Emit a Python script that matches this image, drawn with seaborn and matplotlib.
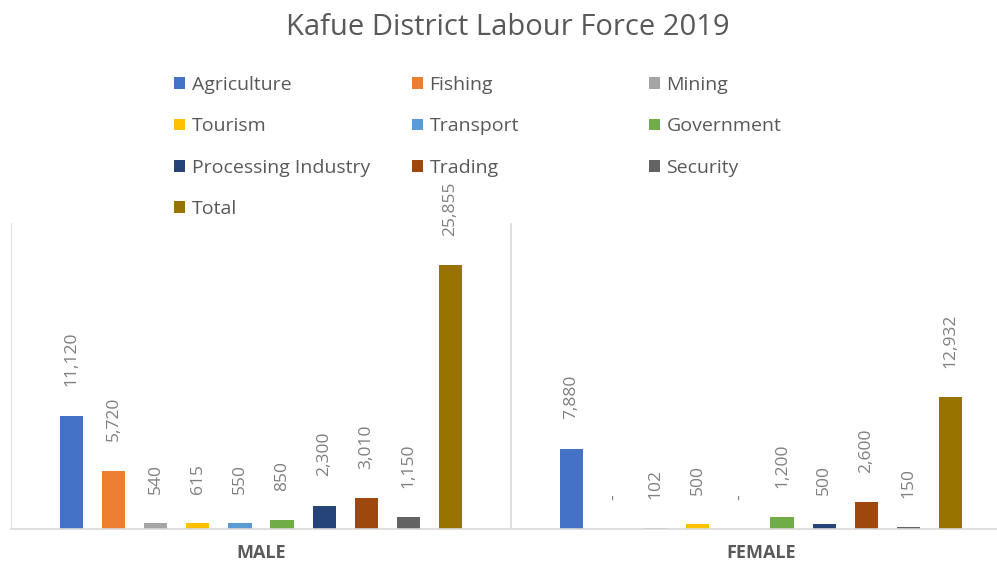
import pandas as pd
import matplotlib.pyplot as plt
import seaborn as sns
from matplotlib.patches import Patch

# Data
genders = ['MALE', 'FEMALE']
sectors = ['Agriculture', 'Fishing', 'Mining', 'Tourism', 'Transport', 'Government',
           'Processing Industry', 'Trading', 'Security', 'Total']
male = [11120, 5720, 540, 615, 550, 850, 2300, 3010, 1150, 25855]
female = [7880, 0, 102, 500, 0, 1200, 500, 2600, 150, 12932]
colors = ['#4472C4', '#ED7D31', '#A5A5A5', '#FFC000', '#5B9BD5', '#70AD47',
          '#264478', '#9E480E', '#636363', '#997300']

rows = []
for s, m, f in zip(sectors, male, female):
    rows.append({'gender': 'MALE', 'sector': s, 'count': m})
    rows.append({'gender': 'FEMALE', 'sector': s, 'count': f})
df = pd.DataFrame(rows)

sns.set_style('white')
plt.rcParams['font.family'] = ['Open Sans', 'DejaVu Sans']
text_color = '#595959'

fig = plt.figure(figsize=(9.97, 5.63), dpi=100)
ax = fig.add_axes([11 / 997, 34 / 563, 1000 / 997, 306 / 563])

sns.barplot(data=df, x='gender', y='count', hue='sector', order=genders,
            hue_order=sectors, palette=colors, saturation=1, width=0.842, gap=0.45,
            linewidth=0, legend=False, ax=ax)

# Data labels, rotated like Excel
for container in ax.containers:
    for bar in container:
        val = bar.get_height()
        txt = '-' if val == 0 else f'{int(val):,}'
        ax.annotate(txt, (bar.get_x() + bar.get_width() / 2, val),
                    xytext=(0, 21), textcoords='offset points',
                    ha='center', va='bottom', rotation=90,
                    fontsize=12.5, color='#7f7f7f')

ax.set_ylim(0, 30000)
ax.set_xlim(-0.5, 1.5)
for x in [-0.5, 0.5, 1.5]:
    ax.axvline(x, color='#d9d9d9', lw=1.2)
for sp in ['top', 'left', 'right']:
    ax.spines[sp].set_visible(False)
ax.spines['bottom'].set_color('#d9d9d9')
ax.spines['bottom'].set_linewidth(1.2)
ax.set_yticks([])
ax.set_xlabel('')
ax.set_ylabel('')
ax.tick_params(axis='x', length=0, pad=11)
for lbl in ax.get_xticklabels():
    lbl.set_fontweight('bold')
    lbl.set_fontsize(13)
    lbl.set_color(text_color)

fig.text(0.509, 0.952, 'Kafue District Labour Force 2019', ha='center', va='center',
         fontsize=21, color=text_color)

# Legend: three fixed-width columns, filled row by row
handles = [Patch(facecolor=c, edgecolor='none') for c in colors]
col_x = [174 / 997, 412 / 997, 649 / 997]
for i, x in enumerate(col_x):
    idx = list(range(i, len(sectors), 3))
    fig.legend([handles[j] for j in idx], [sectors[j] for j in idx],
               loc='upper left', bbox_to_anchor=(x, 1 - 76 / 563),
               frameon=False, fontsize=14, labelcolor=text_color,
               handlelength=0.55, handleheight=0.55, handletextpad=0.35,
               labelspacing=1.2, borderpad=0, borderaxespad=0)

fig.savefig('out.png', dpi=100)
